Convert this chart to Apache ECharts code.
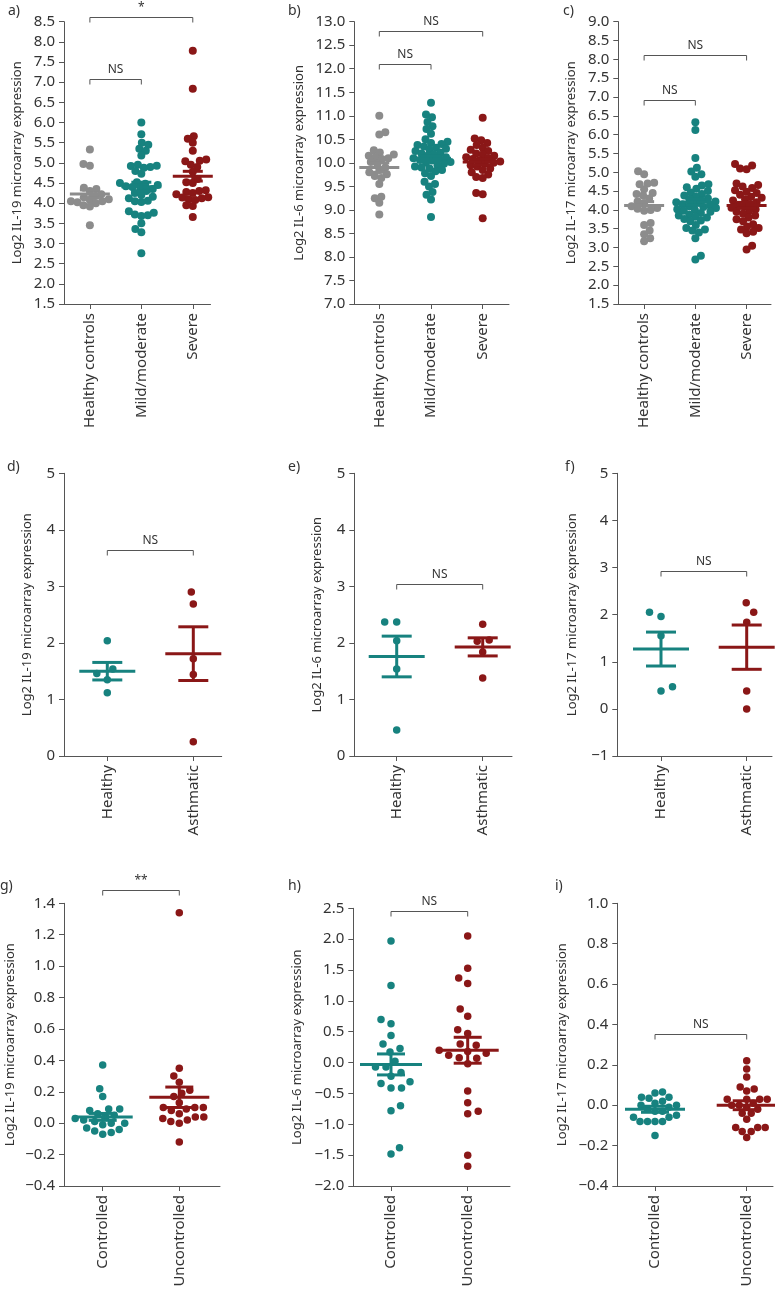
<!DOCTYPE html>
<html>
<head>
<meta charset="utf-8">
<script src="https://cdn.jsdelivr.net/npm/echarts@6/dist/echarts.min.js"></script>
<style>
html,body{margin:0;padding:0;background:#fff;}
#chart{width:775px;height:1290px;}
</style>
</head>
<body>
<div id="chart"></div>
<script>
// ---------- categories ----------
const catsSeverity = ['Healthy controls', 'Mild/moderate', 'Severe'];
const catsAsthma = ['Healthy', 'Asthmatic'];
const catsControl = ['Controlled', 'Uncontrolled'];

// ---------- panel a: IL-19 by severity ----------
const il19Healthy = [5.33, 4.97, 4.93, 4.38, 4.35, 4.3, 4.22, 4.18, 4.15, 4.1, 4.08, 4.05, 4.05, 4.02, 4.0, 3.95, 3.92, 3.45];
const il19Mild = [6.0, 5.71, 5.5, 5.45, 5.35, 5.3, 5.18, 4.95, 4.93, 4.92, 4.9, 4.88, 4.8, 4.73, 4.52, 4.5, 4.48, 4.45, 4.42, 4.4, 4.38, 4.35, 4.3, 4.25, 4.2, 4.16, 4.12, 4.06, 4.05, 4.03, 3.8, 3.76, 3.72, 3.7, 3.68, 3.5, 3.36, 3.28, 2.76];
const il19Severe = [7.78, 6.84, 5.66, 5.6, 5.5, 5.3, 5.08, 5.05, 5.04, 4.95, 4.9, 4.78, 4.6, 4.52, 4.5, 4.32, 4.3, 4.28, 4.25, 4.22, 4.15, 4.14, 4.12, 4.1, 4.08, 3.95, 3.93, 3.66];
const il19SevMean = [4.23, 4.41, 4.67];
const il19SevSem = [0.1, 0.11, 0.12];

// ---------- panel b: IL-6 by severity ----------
const il6Healthy = [11.0, 10.65, 10.6, 10.27, 10.22, 10.18, 10.15, 10.12, 10.1, 10.08, 10.02, 9.98, 9.9, 9.85, 9.8, 9.76, 9.72, 9.68, 9.55, 9.28, 9.25, 9.15, 8.9];
const il6Mild = [11.28, 11.03, 10.97, 10.87, 10.78, 10.72, 10.62, 10.5, 10.45, 10.42, 10.4, 10.38, 10.35, 10.32, 10.3, 10.28, 10.25, 10.22, 10.2, 10.18, 10.15, 10.12, 10.1, 10.08, 10.06, 10.05, 10.02, 10.0, 9.98, 9.95, 9.92, 9.9, 9.88, 9.85, 9.82, 9.78, 9.72, 9.6, 9.55, 9.5, 9.38, 9.32, 9.22, 8.85];
const il6Severe = [10.96, 10.52, 10.48, 10.42, 10.38, 10.32, 10.28, 10.25, 10.2, 10.18, 10.15, 10.12, 10.1, 10.08, 10.05, 10.03, 10.0, 9.98, 9.95, 9.92, 9.88, 9.85, 9.8, 9.75, 9.7, 9.68, 9.36, 9.33, 8.82];
const il6SevMean = [9.9, 10.1, 10.02];
const il6SevSem = [0.1, 0.05, 0.06];

// ---------- panel c: IL-17 by severity ----------
const il17Healthy = [5.03, 4.95, 4.72, 4.7, 4.68, 4.55, 4.45, 4.42, 4.38, 4.3, 4.22, 4.18, 4.1, 4.05, 4.03, 4.0, 3.98, 3.65, 3.6, 3.45, 3.35, 3.25, 3.17];
const il17Mild = [6.33, 6.12, 5.38, 5.12, 5.02, 4.95, 4.88, 4.68, 4.65, 4.6, 4.56, 4.5, 4.46, 4.42, 4.38, 4.35, 4.3, 4.28, 4.25, 4.22, 4.2, 4.18, 4.15, 4.12, 4.1, 4.08, 4.05, 4.02, 4.0, 3.98, 3.95, 3.92, 3.88, 3.85, 3.82, 3.8, 3.76, 3.72, 3.7, 3.6, 3.52, 3.48, 3.45, 3.4, 3.25, 2.78, 2.68];
const il17Severe = [5.22, 5.18, 5.1, 5.08, 4.7, 4.66, 4.62, 4.58, 4.52, 4.48, 4.45, 4.4, 4.35, 4.32, 4.28, 4.25, 4.2, 4.16, 4.12, 4.1, 4.06, 4.02, 3.98, 3.95, 3.9, 3.85, 3.8, 3.75, 3.7, 3.62, 3.56, 3.52, 3.48, 3.42, 3.38, 3.05, 2.95];
const il17SevMean = [4.12, 4.2, 4.12];
const il17SevSem = [0.1, 0.08, 0.08];

// ---------- panels d-f: healthy vs asthmatic ----------
const il19AsHealthy = [2.04, 1.54, 1.46, 1.35, 1.12];
const il19AsAsthma = [2.9, 2.69, 1.72, 1.44, 0.25];
const il19AsMean = [1.5, 1.81];
const il19AsSem = [0.155, 0.475];
const il6AsHealthy = [2.37, 2.37, 2.04, 1.54, 0.46];
const il6AsAsthma = [2.33, 2.05, 2.03, 1.84, 1.38];
const il6AsMean = [1.76, 1.93];
const il6AsSem = [0.36, 0.16];
const il17AsHealthy = [2.05, 1.96, 1.55, 0.47, 0.38];
const il17AsAsthma = [2.25, 2.05, 1.84, 0.38, 0.0];
const il17AsMean = [1.27, 1.31];
const il17AsSem = [0.36, 0.47];

// ---------- panels g-i: controlled vs uncontrolled ----------
const il19Ctrl = [0.37, 0.22, 0.17, 0.09, 0.09, 0.08, 0.06, 0.05, 0.04, 0.03, 0.02, 0.01, 0.0, 0.0, -0.01, -0.03, -0.04, -0.05, -0.06, -0.07];
const il19Unctrl = [1.34, 0.35, 0.3, 0.26, 0.21, 0.19, 0.17, 0.13, 0.1, 0.1, 0.1, 0.09, 0.08, 0.06, 0.04, 0.04, 0.03, 0.02, 0.01, 0.0, -0.12];
const il19CtrlMean = [0.04, 0.165];
const il19CtrlSem = [0.022, 0.065];
const il6Ctrl = [1.97, 1.25, 0.7, 0.63, 0.44, 0.3, 0.23, 0.17, 0.02, -0.07, -0.07, -0.16, -0.22, -0.31, -0.34, -0.41, -0.41, -0.7, -0.78, -1.38, -1.48];
const il6Unctrl = [2.05, 1.53, 1.37, 1.28, 0.87, 0.75, 0.53, 0.47, 0.3, 0.28, 0.2, 0.18, 0.15, 0.12, 0.08, 0.07, -0.02, -0.46, -0.65, -0.79, -0.83, -1.5, -1.68];
const il6CtrlMean = [-0.03, 0.2];
const il6CtrlSem = [0.17, 0.21];
const il17Ctrl = [0.065, 0.06, 0.04, 0.04, 0.035, 0.02, 0.01, 0.0, 0.0, -0.01, -0.02, -0.03, -0.03, -0.05, -0.06, -0.06, -0.08, -0.08, -0.08, -0.08, -0.15];
const il17Unctrl = [0.22, 0.18, 0.14, 0.09, 0.08, 0.07, 0.03, 0.03, 0.03, 0.03, 0.01, 0.0, 0.0, -0.01, -0.02, -0.04, -0.04, -0.07, -0.11, -0.11, -0.11, -0.13, -0.13, -0.16];
const il17CtrlMean = [-0.02, 0.0];
const il17CtrlSem = [0.015, 0.022];

// ---------- significance brackets [from, to, y, label] ----------
const brA = [[1, 3, 8.61, '*'], [1, 2, 7.08, 'NS']];
const brB = [[1, 3, 12.81, 'NS'], [1, 2, 12.1, 'NS']];
const brC = [[1, 3, 8.12, 'NS'], [1, 2, 6.91, 'NS']];
const brD = [[1, 2, 3.64, 'NS']];
const brE = [[1, 2, 3.05, 'NS']];
const brF = [[1, 2, 2.93, 'NS']];
const brG = [[1, 2, 1.485, '**']];
const brH = [[1, 2, 2.46, 'NS']];
const brI = [[1, 2, 0.351, 'NS']];

// ---------- styling / layout ----------
const GREY = '#8c8c8c', TEAL = '#17827f', RED = '#8a1717';
const FONT = '"Noto Sans", "Open Sans", sans-serif';
const TXT = '#333';
const AX = '#555';

const panels = [
  {lab: 'a)', labX: 8, labY: 12, name: 'Log2 IL-19 microarray expression', nameGap: 40,
   L: 64, T: 21.7, R: 210.5, B: 304, centers: [90, 141.7, 192.7], yMin: 1.5, yMax: 8.5, step: 0.5, dec: 1,
   cats: catsSeverity, groups: [il19Healthy, il19Mild, il19Severe], colors: [GREY, TEAL, RED],
   mean: il19SevMean, sem: il19SevSem, hwMean: 20, hwCap: 10, br: brA, diam: 8, spread: 0.8},
  {lab: 'b)', labX: 288, labY: 12, name: 'Log2 IL-6 microarray expression', nameGap: 49,
   L: 354.3, T: 21.7, R: 509, B: 304, centers: [379.3, 431, 482.7], yMin: 7.0, yMax: 13.0, step: 0.5, dec: 1,
   cats: catsSeverity, groups: [il6Healthy, il6Mild, il6Severe], colors: [GREY, TEAL, RED],
   mean: il6SevMean, sem: il6SevSem, hwMean: 20, hwCap: 10, br: brB, diam: 8, spread: 0.8},
  {lab: 'c)', labX: 563, labY: 12, name: 'Log2 IL-17 microarray expression', nameGap: 41,
   L: 618.3, T: 21.7, R: 771, B: 304, centers: [644, 695, 746.7], yMin: 1.5, yMax: 9.0, step: 0.5, dec: 1,
   cats: catsSeverity, groups: [il17Healthy, il17Mild, il17Severe], colors: [GREY, TEAL, RED],
   mean: il17SevMean, sem: il17SevSem, hwMean: 20, hwCap: 10, br: brC, diam: 8, spread: 0.8},
  {lab: 'd)', labX: 7, labY: 468, name: 'Log2 IL-19 microarray expression', nameGap: 30,
   L: 64, T: 473.3, R: 221.7, B: 756, centers: [107.3, 193.3], yMin: 0, yMax: 5, step: 1, dec: 0,
   cats: catsAsthma, groups: [il19AsHealthy, il19AsAsthma], colors: [TEAL, RED],
   mean: il19AsMean, sem: il19AsSem, hwMean: 28, hwCap: 15, br: brD, diam: 7.5, spread: 1.6},
  {lab: 'e)', labX: 288, labY: 468, name: 'Log2 IL-6 microarray expression', nameGap: 31,
   L: 354.3, T: 473.3, R: 512, B: 756, centers: [396.7, 482.7], yMin: 0, yMax: 5, step: 1, dec: 0,
   cats: catsAsthma, groups: [il6AsHealthy, il6AsAsthma], colors: [TEAL, RED],
   mean: il6AsMean, sem: il6AsSem, hwMean: 28, hwCap: 15, br: brE, diam: 7.5, spread: 1.6},
  {lab: 'f)', labX: 565, labY: 468, name: 'Log2 IL-17 microarray expression', nameGap: 39,
   L: 617.3, T: 473.3, R: 772, B: 756, centers: [661, 746.7], yMin: -1, yMax: 5, step: 1, dec: 0,
   cats: catsAsthma, groups: [il17AsHealthy, il17AsAsthma], colors: [TEAL, RED],
   mean: il17AsMean, sem: il17AsSem, hwMean: 28, hwCap: 15, br: brF, diam: 7.5, spread: 1.6},
  {lab: 'g)', labX: 0, labY: 887, name: 'Log2 IL-19 microarray expression', nameGap: 47,
   L: 64, T: 903.3, R: 220, B: 1186, centers: [102.7, 179.3], yMin: -0.4, yMax: 1.4, step: 0.2, dec: 1,
   cats: catsControl, groups: [il19Ctrl, il19Unctrl], colors: [TEAL, RED],
   mean: il19CtrlMean, sem: il19CtrlSem, hwMean: 30, hwCap: 14, br: brG, diam: 7.5, spread: 1.1},
  {lab: 'h)', labX: 288, labY: 887, name: 'Log2 IL-6 microarray expression', nameGap: 50,
   L: 353.3, T: 908.3, R: 510, B: 1186, centers: [391, 467.7], yMin: -2.0, yMax: 2.5, step: 0.5, dec: 1,
   cats: catsControl, groups: [il6Ctrl, il6Unctrl], colors: [TEAL, RED],
   mean: il6CtrlMean, sem: il6CtrlSem, hwMean: 31, hwCap: 14, br: brH, diam: 7.5, spread: 1.4},
  {lab: 'i)', labX: 555, labY: 887, name: 'Log2 IL-17 microarray expression', nameGap: 49,
   L: 617.3, T: 903.3, R: 773, B: 1186, centers: [655, 746.7], yMin: -0.4, yMax: 1.0, step: 0.2, dec: 1,
   cats: catsControl, groups: [il17Ctrl, il17Unctrl], colors: [TEAL, RED],
   mean: il17CtrlMean, sem: il17CtrlSem, hwMean: 30, hwCap: 14, br: brI, diam: 7.5, spread: 1.0}
];

// simple beeswarm layout (pixel offsets), returned in pixels
function swarm(vals, pxPerVal, diam, spread) {
  const order = vals.map((v, i) => i).sort((a, b) => vals[a] - vals[b]);
  const placed = [];
  const off = new Array(vals.length).fill(0);
  const minD = diam * spread;
  order.forEach((i, k) => {
    const y = vals[i] * pxPerVal;
    let best = null;
    for (let m = 0; m < 300 && best === null; m += 0.5) {
      const sides = m === 0 ? [0] : (k % 2 ? [m, -m] : [-m, m]);
      for (const x of sides) {
        if (placed.every(p => (p.x - x) * (p.x - x) + (p.y - y) * (p.y - y) >= minD * minD)) { best = x; break; }
      }
    }
    off[i] = best;
    placed.push({x: best, y: y});
  });
  return off;
}

function fmt(v, dec) {
  if (Math.abs(v) < 1e-9) v = 0;
  const s = v.toFixed(dec);
  return s.charAt(0) === '-' ? '\u2212' + s.slice(1) : s;
}

const grids = [], xAxes = [], yAxes = [], series = [], graphics = [];

panels.forEach((p, pi) => {
  const n = p.cats.length;
  const unitPx = p.centers[1] - p.centers[0];
  const xMin = 1 - (p.centers[0] - p.L) / unitPx;
  const xMax = n + (p.R - p.centers[n - 1]) / unitPx;
  const pxPerVal = (p.B - p.T) / (p.yMax - p.yMin);
  const idxs = p.cats.map((c, i) => i + 1);

  grids.push({left: p.L, top: p.T, width: p.R - p.L, height: p.B - p.T, containLabel: false, outerBoundsMode: 'none'});
  xAxes.push({
    type: 'value', gridIndex: pi, min: xMin, max: xMax,
    axisLine: {show: true, onZero: false, lineStyle: {color: AX, width: 1}},
    axisTick: {show: true, length: 5, customValues: idxs, lineStyle: {color: AX}},
    axisLabel: {customValues: idxs, rotate: 90, margin: 9, fontSize: 15, color: TXT, fontFamily: FONT,
      formatter: v => p.cats[Math.round(v) - 1] || ''},
    splitLine: {show: false}
  });
  yAxes.push({
    type: 'value', gridIndex: pi, min: p.yMin, max: p.yMax, interval: p.step,
    name: p.name, nameLocation: 'middle', nameGap: p.nameGap,
    nameTextStyle: {fontSize: 13, color: TXT, fontFamily: FONT},
    axisLine: {show: true, lineStyle: {color: AX, width: 1}},
    axisTick: {show: true, length: 5, lineStyle: {color: AX}},
    axisLabel: {margin: 9, fontSize: 15, color: TXT, fontFamily: FONT, formatter: v => fmt(v, p.dec)},
    splitLine: {show: false}
  });

  p.groups.forEach((vals, gi) => {
    const off = swarm(vals, pxPerVal, p.diam, p.spread);
    series.push({
      type: 'scatter', xAxisIndex: pi, yAxisIndex: pi, symbolSize: p.diam, silent: true,
      itemStyle: {color: p.colors[gi], opacity: 1},
      data: vals.map((v, k) => [gi + 1 + off[k] / unitPx, v]),
      z: 2
    });
  });

  // mean ± SEM
  series.push({
    type: 'custom', xAxisIndex: pi, yAxisIndex: pi, silent: true, z: 3,
    encode: {x: 0, y: 1},
    data: p.mean.map((m, i) => [i + 1, m, p.sem[i]]),
    renderItem: (params, api) => {
      const x = api.value(0), m = api.value(1), s = api.value(2);
      const c = api.coord([x, m]), hi = api.coord([x, m + s]), lo = api.coord([x, m - s]);
      const col = p.colors[params.dataIndex];
      const st = {stroke: col, lineWidth: 3};
      return {type: 'group', children: [
        {type: 'line', shape: {x1: c[0] - p.hwMean, y1: c[1], x2: c[0] + p.hwMean, y2: c[1]}, style: st},
        {type: 'line', shape: {x1: c[0], y1: hi[1], x2: c[0], y2: lo[1]}, style: st},
        {type: 'line', shape: {x1: c[0] - p.hwCap, y1: hi[1], x2: c[0] + p.hwCap, y2: hi[1]}, style: st},
        {type: 'line', shape: {x1: c[0] - p.hwCap, y1: lo[1], x2: c[0] + p.hwCap, y2: lo[1]}, style: st}
      ]};
    }
  });

  // significance brackets
  series.push({
    type: 'custom', xAxisIndex: pi, yAxisIndex: pi, silent: true, z: 4, clip: false,
    encode: {x: 0, y: 2},
    data: p.br.map(b => [b[0], b[1], b[2], b[3]]),
    renderItem: (params, api) => {
      const b = p.br[params.dataIndex];
      const a1 = api.coord([b[0], b[2]]), a2 = api.coord([b[1], b[2]]);
      const y = Math.round(a1[1]) + 0.5;
      return {type: 'group', children: [
        {type: 'polyline', shape: {points: [[a1[0], y + 5], [a1[0], y], [a2[0], y], [a2[0], y + 5]]},
          style: {stroke: '#555', lineWidth: 1, fill: null}},
        {type: 'text', style: {text: b[3], x: (a1[0] + a2[0]) / 2, y: y - 4, align: 'center', verticalAlign: 'bottom',
          fontSize: 12, fill: TXT, fontFamily: FONT}}
      ]};
    }
  });

  graphics.push({type: 'text', left: p.labX, top: p.labY - 8, style: {text: p.lab, fontSize: 14, fill: TXT, fontFamily: FONT}});
});

const chart = echarts.init(document.getElementById('chart'), null, {renderer: 'canvas'});
chart.setOption({
  animation: false,
  backgroundColor: '#fff',
  grid: grids, xAxis: xAxes, yAxis: yAxes, series: series, graphic: graphics
});
</script>
</body>
</html>
